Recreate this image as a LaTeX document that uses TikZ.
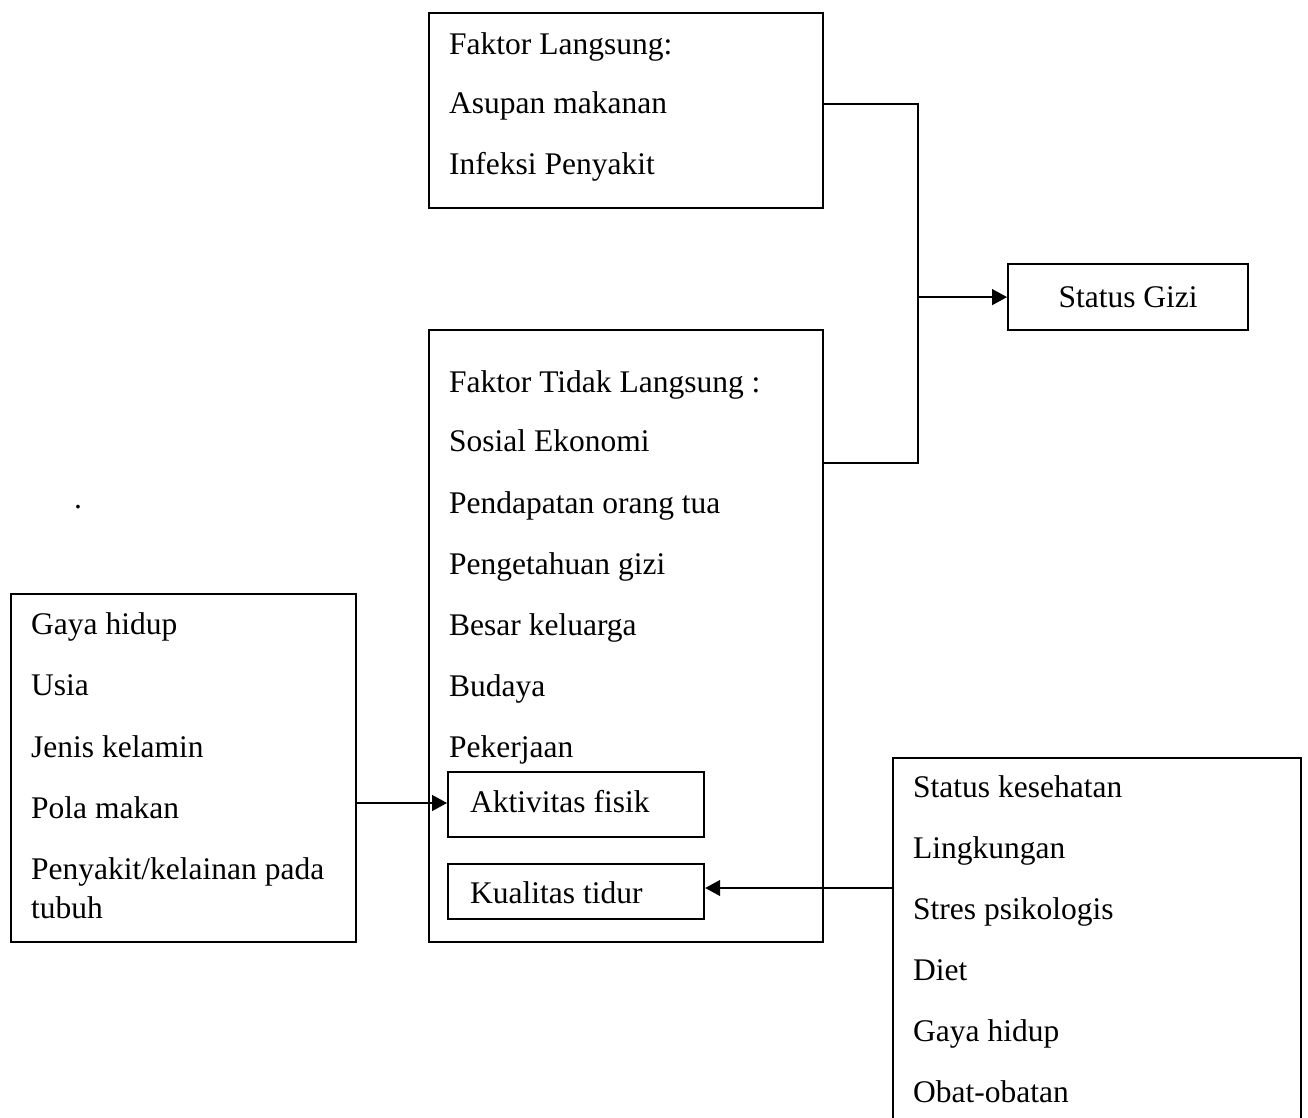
\documentclass[tikz,border=0pt]{standalone}
\usepackage{fontspec}
\setmainfont{Liberation Serif}
\usetikzlibrary{arrows.meta}
\begin{document}
\begin{tikzpicture}[x=1pt,y=-1pt,
  box/.style={draw, line width=2.2pt, inner sep=0pt},
  txt/.style={anchor=base west, inner sep=0pt, font=\fontsize{31.5}{38}\selectfont},
  conn/.style={line width=1.3pt},
  arr/.style={line width=1.3pt, -{Triangle[length=15pt,width=16pt]}}]
\useasboundingbox (0,0) rectangle (1308,1118);
% boxes
\node[box, minimum width=394pt, minimum height=195pt, anchor=north west] (fl) at (428,12) {};
\node[box, minimum width=240pt, minimum height=66pt, anchor=north west] (sg) at (1007,263) {};
\node[box, minimum width=394pt, minimum height=612pt, anchor=north west] (ftl) at (428,329) {};
\node[box, minimum width=256pt, minimum height=65pt, anchor=north west] (af) at (447,771) {};
\node[box, minimum width=256pt, minimum height=55pt, anchor=north west] (kt) at (447,863) {};
\node[box, minimum width=345pt, minimum height=348pt, anchor=north west] (lb) at (10,593) {};
\node[box, minimum width=408pt, minimum height=400pt, anchor=north west] (rb) at (892,757) {};
% texts
\node[txt] (t1) at (449,55) {Faktor Langsung:};
\node[txt] (t2) at (449,114) {Asupan makanan};
\node[txt] (t3) at (449,175) {Infeksi Penyakit};
\node[inner sep=0pt, font=\fontsize{31.5}{38}\selectfont] (t4) at (sg.center) {Status Gizi};
\node[txt] (b1) at (449,392) {Faktor Tidak Langsung :};
\node[txt] (b2) at (449,451) {Sosial Ekonomi};
\node[txt] (b3) at (449,513) {Pendapatan orang tua};
\node[txt] (b4) at (449,574) {Pengetahuan gizi};
\node[txt] (b5) at (449,635) {Besar keluarga};
\node[txt] (b6) at (449,696) {Budaya};
\node[txt] (b7) at (449,757) {Pekerjaan};
\node[txt] (b8) at (470,812) {Aktivitas fisik};
\node[txt] (b9) at (470,903) {Kualitas tidur};
\node[txt] (l1) at (31,634) {Gaya hidup};
\node[txt] (l2) at (31,695) {Usia};
\node[txt] (l3) at (31,757) {Jenis kelamin};
\node[txt] (l4) at (31,818) {Pola makan};
\node[txt] (l5) at (31,879) {Penyakit/kelainan pada};
\node[txt] (l6) at (31,918) {tubuh};
\node[txt] (r1) at (913,797) {Status kesehatan};
\node[txt] (r2) at (913,858) {Lingkungan};
\node[txt] (r3) at (913,919) {Stres psikologis};
\node[txt] (r4) at (913,980) {Diet};
\node[txt] (r5) at (913,1041) {Gaya hidup};
\node[txt] (r6) at (913,1102) {Obat-obatan};
\node[txt] (dot) at (74,508) {.};
% connectors
\coordinate (j1) at (918,104);
\coordinate (j2) at (918,463);
\coordinate (j3) at (j1 |- sg.west);
\draw[conn] (fl.east |- j1) -- (j1) -- (j2) -- (ftl.east |- j2);
\draw[arr] (j3) -- (sg.west);
\draw[arr] (lb.east |- 0,803) -- (af.west |- 0,803);
\draw[arr] (rb.west |- 0,888) -- (kt.east |- 0,888);
\end{tikzpicture}
\end{document}
